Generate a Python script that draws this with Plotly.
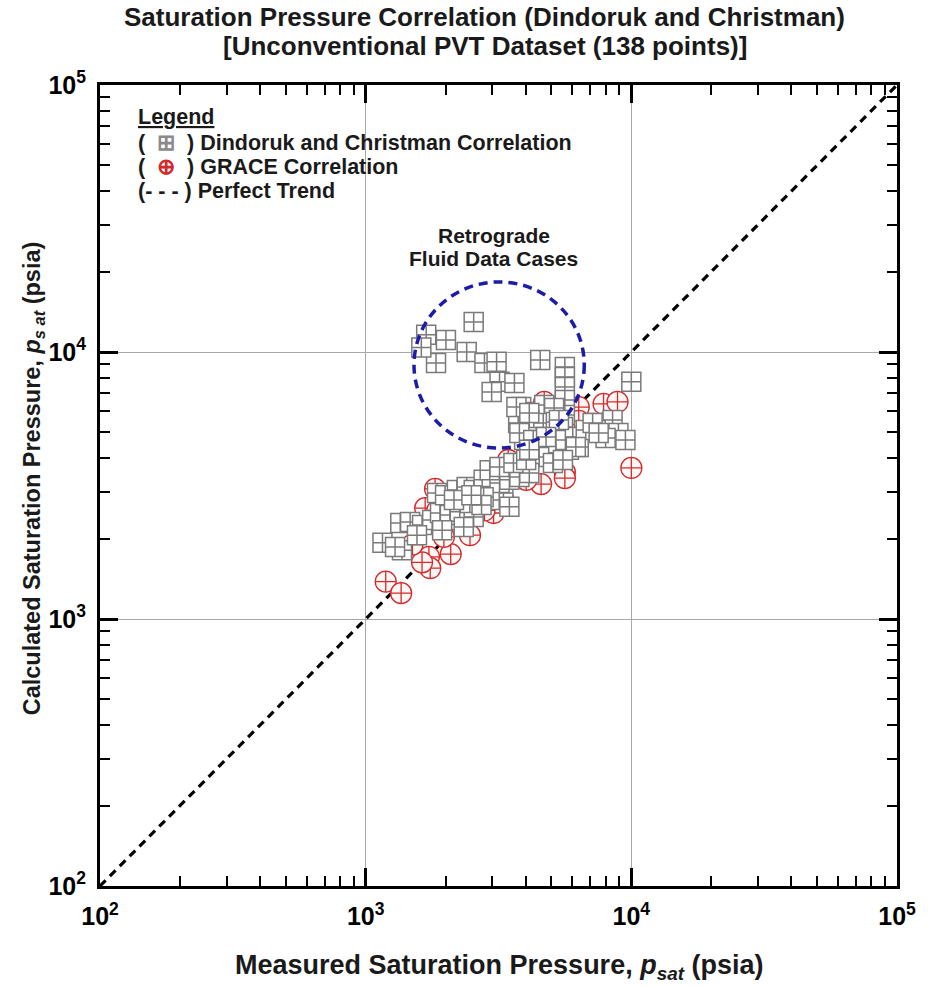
import plotly.graph_objects as go

# Dindoruk and Christman correlation: measured vs calculated saturation pressure (psia)
dc_measured = [
    2550, 1690, 2005, 1840, 1620, 2400, 2800, 3110, 3190, 3630, 2980, 4540,
    5620, 5620, 5620, 5620, 5620, 10000,
    7530, 8500, 8940, 8000, 9500, 7340,
    3850, 4270, 4700, 5120, 4130, 3750, 4660, 5200, 5530, 6020, 6340, 5820,
    5200, 4385, 3950, 4270, 4780, 4090, 3693, 4130, 5340, 6735, 7150, 7534,
    3790, 4272, 4776, 6180, 4500, 5070, 5527, 3920, 3110, 3390, 2850, 3300,
    2930, 3475,
    1157, 1370, 1290, 1350, 1470, 1630, 1780, 1905, 2075, 2260, 2550, 1856,
    1990, 2205, 2400, 2551, 2780, 2980, 3190, 3475, 3790, 4130, 2930, 3190,
    3600, 4020, 4130, 2780, 2466, 1560, 1940, 2340, 2730, 2150, 2500,
]
dc_calculated = [
    12950, 11600, 11100, 9100, 10400, 10000, 9100, 9200, 7730, 7650, 7080, 9330,
    8780, 8060, 7390, 6610, 5810, 7730,
    5420, 5560, 4970, 4760, 4680, 5100,
    6220, 5960, 6330, 6170, 5560, 5420, 5420, 5470, 5240, 4800, 4410, 4300,
    4680, 4800, 4680, 4300, 4190, 3710, 6220, 5910, 5560, 5100, 5420, 4972,
    4970, 4680, 4800, 4410, 4040, 3840, 3940, 3520, 3400, 3320, 3230, 2965,
    2790, 2630,
    1930, 1810, 1860, 2290, 2310, 2250, 2350, 2495, 2450, 2520, 2410, 2965,
    2910, 3040, 3120, 3042, 3320, 3400, 3230, 3320, 3400, 3520, 3610, 3710,
    3840, 3940, 4300, 2860, 2720, 2060, 2150, 2210, 2670, 2790, 2910,
]

# GRACE correlation
grace_measured = [
    1190, 1360, 1730, 1750, 2090, 1675, 1825, 1970, 2470, 3030, 4575, 5620,
    5620, 10000, 6340, 6340, 7860, 8870, 3440, 1630,
    4700, 3540, 2620, 2205, 1860, 3110, 4020, 5000, 5620, 3690, 1500, 2800,
    3300, 4200,
]
grace_calculated = [
    1380, 1250, 1710, 1550, 1750, 2600, 3070, 2030, 2060, 2495, 3200, 3550,
    3370, 3680, 6220, 5520, 6390, 6500, 3940, 1630,
    6500, 3780, 2790, 2350, 2550, 3040, 3320, 4500, 5100, 3620, 1900, 2550,
    2800, 4200,
]

# 1:1 reference line
perfect_trend = [100, 100000]

# Axis ticks
major_ticks = [100, 1000, 10000, 100000]
major_labels = ["10<sup>2</sup>", "10<sup>3</sup>", "10<sup>4</sup>", "10<sup>5</sup>"]
minor_ticks = [m * d for d in (100, 1000, 10000) for m in range(2, 10)]

# Retrograde region outline (data units)
retro_x = [1520, 6650]
retro_y = [4370, 18300]

FONT = "Liberation Sans, Arial, sans-serif"
INK = "#1a1a1a"

fig = go.Figure()

fig.add_trace(go.Scatter(
    x=perfect_trend, y=perfect_trend, mode="lines",
    line=dict(color="black", width=3.2, dash="8px,6px"),
    hoverinfo="skip", showlegend=False,
))

fig.add_trace(go.Scatter(
    x=grace_measured, y=grace_calculated, mode="markers",
    marker=dict(symbol="circle-cross", size=21, color="#fff6f6",
                line=dict(color="#d42a2a", width=1.3)),
    showlegend=False,
))

fig.add_trace(go.Scatter(
    x=dc_measured, y=dc_calculated, mode="markers",
    marker=dict(symbol="square-cross", size=19, color="white",
                line=dict(color="#7a7a7a", width=1.5)),
    showlegend=False,
))

fig.add_shape(
    type="circle", xref="x", yref="y",
    x0=retro_x[0], x1=retro_x[1], y0=retro_y[0], y1=retro_y[1],
    line=dict(color="#1c1ca8", width=3.5, dash="9px,6px"),
)

axis_common = dict(
    type="log", range=[2, 5],
    tickmode="array", tickvals=major_ticks, ticktext=major_labels,
    ticks="inside", ticklen=18, tickwidth=2.5, tickcolor="black",
    showline=True, linewidth=3, linecolor="black", mirror="allticks",
    showgrid=True, gridcolor="#a8a8a8", gridwidth=1,
    zeroline=False, ticklabelstandoff=6,
    tickfont=dict(family=FONT, size=25, color="black", weight="bold"),
    minor=dict(tickmode="array", tickvals=minor_ticks, ticks="inside",
               ticklen=10, tickwidth=2, tickcolor="black", showgrid=False),
)
fig.update_xaxes(**axis_common)
fig.update_yaxes(**axis_common)


def text_at(text, x, y, size, xanchor="center", angle=0):
    return dict(text=text, x=x, y=y, xref="paper", yref="paper",
                xanchor=xanchor, yanchor="middle", showarrow=False,
                textangle=angle, align="left" if xanchor == "left" else "center",
                font=dict(family=FONT, size=size, color=INK))


annotations = [
    # chart title
    text_at("<b>Saturation Pressure Correlation (Dindoruk and Christman)</b>", 0.483, 1.0848, 26),
    text_at("<b>[Unconventional PVT Dataset (138 points)]</b>", 0.483, 1.0487, 26),
    # axis titles
    text_at("<b>Measured Saturation Pressure, <i>p<sub>sat</sub></i> (psia)</b>", 0.501, -0.101, 27),
    text_at("<b>Calculated Saturation Pressure, <i>p<sub>s at</sub></i> (psia)</b>", -0.084, 0.509, 23.5, angle=-90),
    # retrograde region label
    text_at("<b>Retrograde</b>", 0.494, 0.8127, 21),
    text_at("<b>Fluid Data Cases</b>", 0.494, 0.784, 21),
    # legend block
    text_at("<b><u>Legend</u></b>", 0.0448, 0.960, 21.5, xanchor="left"),
    text_at("<b>(  <span style='color:#8a8a8a'>⊞</span>  ) Dindoruk and Christman Correlation</b>",
            0.0448, 0.9276, 21.5, xanchor="left"),
    text_at("<b>(  <span style='color:#d42a2a'>⊕</span>  ) GRACE Correlation</b>",
            0.0448, 0.8976, 21.5, xanchor="left"),
    text_at("<b>(- - - ) Perfect Trend</b>", 0.0448, 0.8677, 21.5, xanchor="left"),
]

fig.update_layout(
    width=928, height=987,
    margin=dict(l=100, r=24, t=85, b=101),
    paper_bgcolor="white", plot_bgcolor="white",
    annotations=annotations,
    showlegend=False,
)

fig.write_html("out.html")
